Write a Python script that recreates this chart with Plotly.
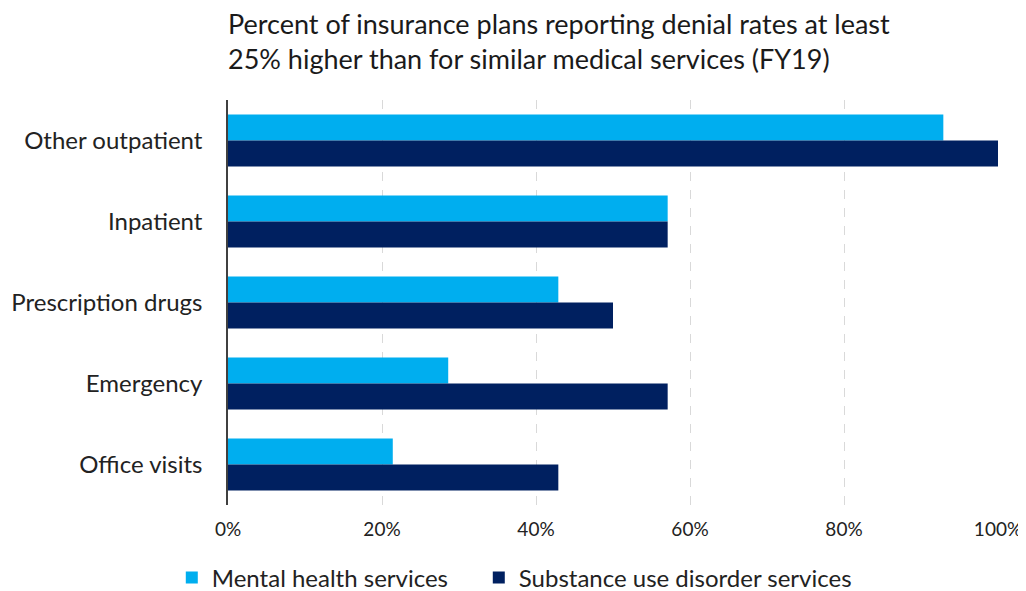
import plotly.graph_objects as go

categories = ["Other outpatient", "Inpatient", "Prescription drugs", "Emergency", "Office visits"]
mental_health = [92.9, 57.1, 42.9, 28.6, 21.4]
substance_use = [100.0, 57.1, 50.0, 57.1, 42.9]
x_ticks = [0, 20, 40, 60, 80, 100]
x_tick_labels = ["0%", "20%", "40%", "60%", "80%", "100%"]

FONT = "Lato"

fig = go.Figure()
fig.add_trace(go.Bar(
    y=categories, x=mental_health, orientation="h",
    name="Mental health services", marker=dict(color="#00AEEF", line=dict(width=0)),
    legend="legend",
))
fig.add_trace(go.Bar(
    y=categories, x=substance_use, orientation="h",
    name="Substance use disorder services", marker=dict(color="#002060", line=dict(width=0)),
    legend="legend2",
))

W, H = 1018, 583
legend_font = dict(family=FONT, size=24, color="#222222")
fig.update_layout(
    width=W, height=H,
    paper_bgcolor="white", plot_bgcolor="white",
    margin=dict(l=220, r=28, t=92, b=86, autoexpand=False),
    barmode="group", bargap=0.36, bargroupgap=0,
    font=dict(family=FONT, color="#222222"),
    title=dict(
        text="Percent of insurance plans reporting denial rates at least<br>25% higher than for similar medical services (FY19)",
        x=220/W, xanchor="left", y=0.955, yanchor="top",
        font=dict(family=FONT, size=27, color="#1a1a1a"),
    ),
    legend=dict(
        orientation="h", x=-0.073, xanchor="left", y=-0.18, yanchor="middle",
        font=legend_font, itemwidth=30,
    ),
    legend2=dict(
        orientation="h", x=0.3257, xanchor="left", y=-0.18, yanchor="middle",
        font=legend_font, itemwidth=30,
    ),
    showlegend=True,
)
fig.update_xaxes(
    range=[0, 100], tickvals=x_ticks, ticktext=x_tick_labels,
    showgrid=True, gridcolor="#D9D9D9", griddash="dash", gridwidth=1,
    zeroline=False, showline=False, automargin=False,
    tickfont=dict(family=FONT, size=19, color="#222222"),
    ticklabelstandoff=11,
)
fig.update_yaxes(
    autorange="reversed", showgrid=False, automargin=False,
    showline=True, linecolor="#404040", linewidth=1.5,
    tickfont=dict(family=FONT, size=24, color="#222222"),
    ticklabelstandoff=19,
)

fig.write_html("out.html")
